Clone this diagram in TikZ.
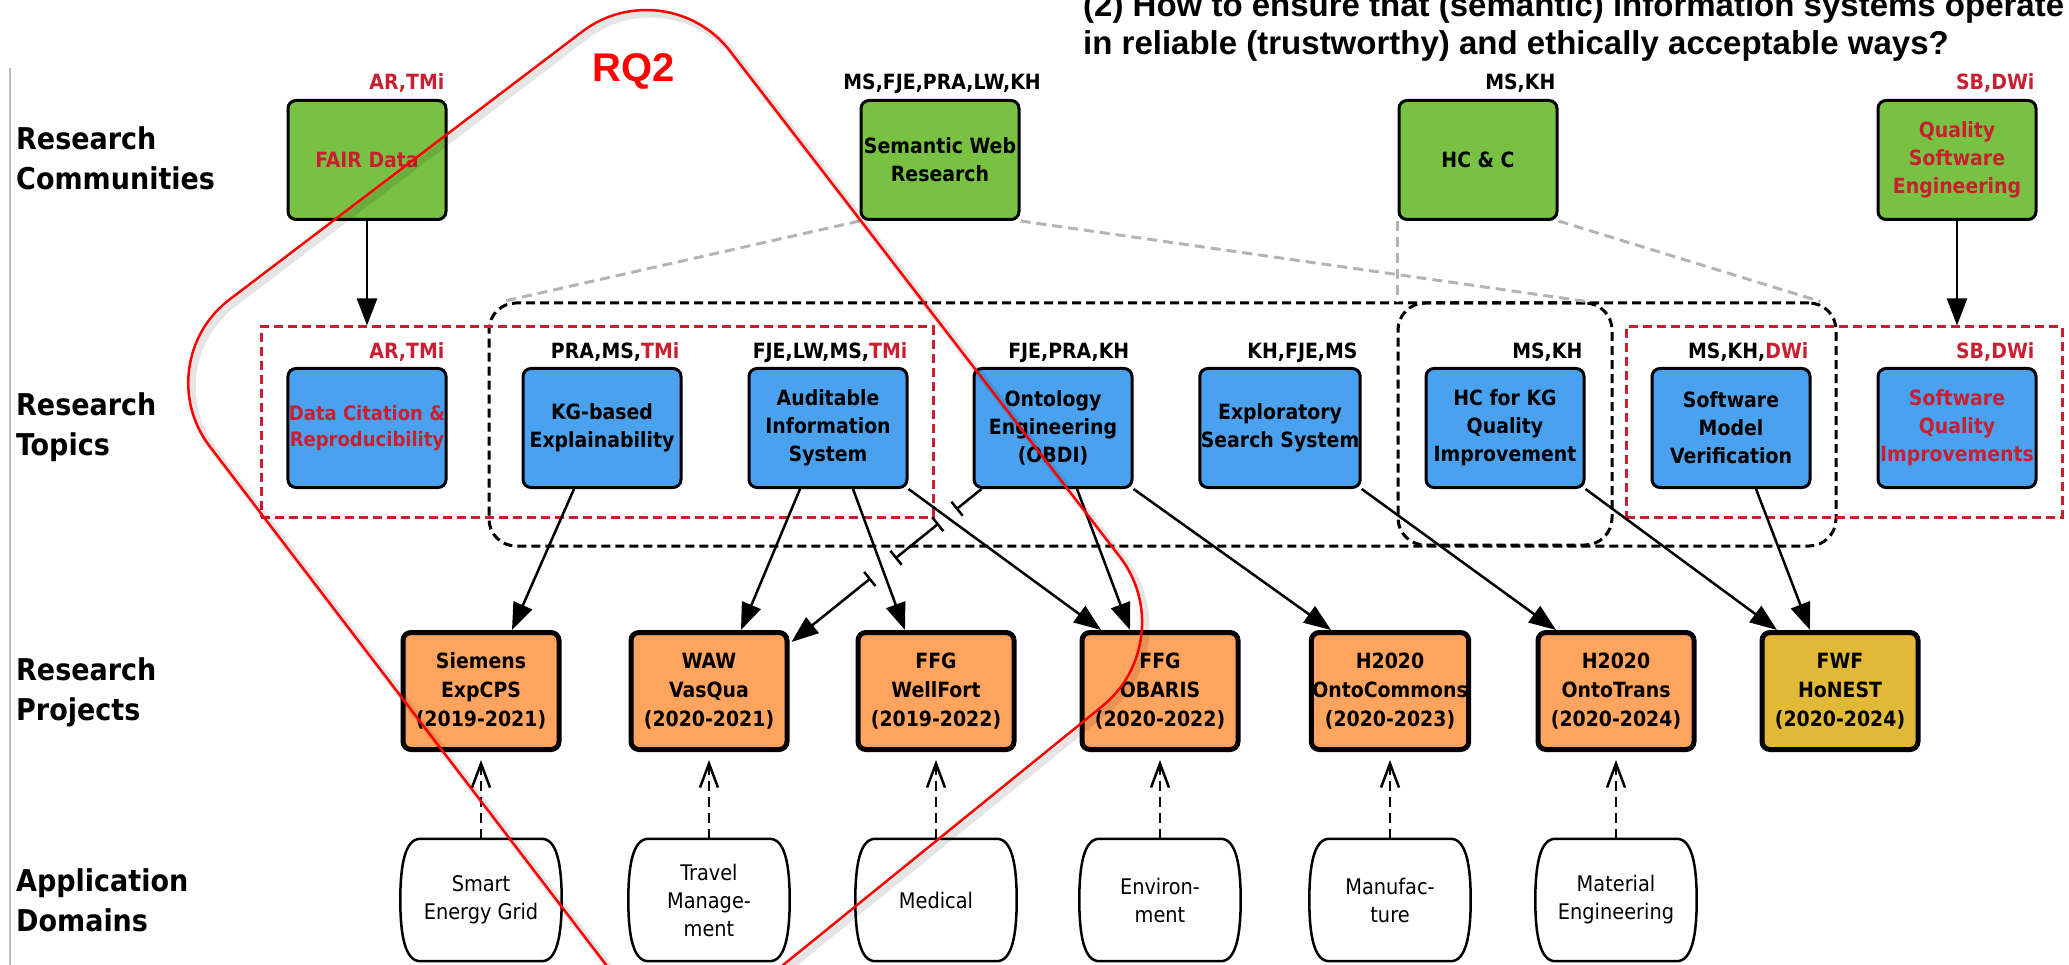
\documentclass[tikz,border=0pt]{standalone}
\usepackage{fontspec}
\setmainfont{DejaVu Sans Condensed}
\newfontfamily\arialfont{Liberation Sans}
\usetikzlibrary{arrows.meta,calc}

\definecolor{commgreen}{RGB}{120,193,67}
\definecolor{topicblue}{RGB}{74,161,238}
\definecolor{projorange}{RGB}{255,164,94}
\definecolor{projgold}{RGB}{225,185,55}
\definecolor{leadred}{RGB}{200,32,48}
\definecolor{fangray}{RGB}{180,180,180}

\tikzset{
  box/.style={rectangle, rounded corners=8pt, draw=black, line width=3pt,
    minimum width=158pt, minimum height=119pt, inner sep=1pt, align=center,
    font=\fontsize{21}{28}\selectfont\bfseries},
  community/.style={box, fill=commgreen},
  topic/.style={box, fill=topicblue},
  project/.style={box, fill=projorange, line width=5pt,
    minimum width=156pt, minimum height=117pt, font=\fontsize{21}{29}\selectfont\bfseries},
  funder/.style={project, fill=projgold},
  appdomain/.style={minimum width=161pt, minimum height=122pt, align=center,
    font=\fontsize{21.5}{28}\selectfont, inner sep=0pt},
  domainline/.style={draw=black, line width=2.5pt},
  who/.style={anchor=base east, font=\fontsize{21}{24}\selectfont\bfseries, inner sep=0pt},
  rowlabel/.style={anchor=west, align=left, font=\fontsize{30}{40}\selectfont\bfseries, inner sep=0pt},
  link/.style={line width=2.5pt, -{Triangle[length=27pt,width=20pt]}},
  tee/.style={line width=2.5pt},
  feeds/.style={line width=2.5pt, dash pattern=on 10pt off 6pt,
    -{Straight Barb[length=24pt,width=18pt]}, shorten >=8pt},
  fan/.style={draw=fangray, line width=3pt, dash pattern=on 10pt off 6pt},
  group/.style={draw=black, line width=3pt, dash pattern=on 9pt off 5pt,
    rounded corners=27pt, inner sep=0pt},
  leadgroup/.style={draw=leadred, line width=3pt, dash pattern=on 9pt off 5pt, inner sep=0pt},
  scopeline/.style={line width=2.5pt, rounded corners=105pt},
}

\begin{document}
\begin{tikzpicture}[x=1pt,y=-1pt]
\useasboundingbox (0,0) rectangle (2069,965);

% left rule
\draw[draw=black!25, line width=1.5pt] (10,68) -- (10,965);

% row headings
\node[rowlabel] (rlc) at (16,158) {Research\\Communities};
\node[rowlabel] (rlt) at (16,427) {Research\\Topics};
\node[rowlabel] (rlp) at (16,692) {Research\\Projects};
\node[rowlabel] (rld) at (16,900) {Application\\Domains};

% research question
\node[anchor=base west, inner sep=0pt, font=\arialfont\bfseries\fontsize{33}{38}\selectfont] (q1) at (1083,17)
  {(2) How to ensure that (semantic) information systems operate};
\node[anchor=base west, inner sep=0pt, font=\arialfont\bfseries\fontsize{33}{38}\selectfont] (q2) at (1083,55)
  {in reliable (trustworthy) and ethically acceptable ways?};

% groups of topics
\node[group, minimum width=1347pt, minimum height=243pt] (swgroup) at (1162.5,424.5) {};
\node[group, minimum width=214pt, minimum height=242pt] (hccgroup) at (1505,424) {};
\node[leadgroup, minimum width=672pt, minimum height=190pt] (lead1) at (597,422) {};
\node[leadgroup, minimum width=436pt, minimum height=190pt] (lead2) at (1844,422) {};

% research communities
\node[community, text=leadred] (fair) at (367,160) {FAIR Data};
\node[community] (sw) at (940,160) {Semantic Web\\Research};
\node[community] (hcc) at (1478,160) {HC \& C};
\node[community, text=leadred] (qse) at (1957,160) {Quality\\Software\\Engineering};

\node[who, text=leadred] (fairwho) at ($(fair.north east)+(-3,-9)$) {AR,TMi};
\node[who, anchor=base] (swwho) at ($(sw.north)+(2,-9)$) {MS,FJE,PRA,LW,KH};
\node[who] (hccwho) at ($(hcc.north east)+(-3,-9)$) {MS,KH};
\node[who, text=leadred] (qsewho) at ($(qse.north east)+(-3,-9)$) {SB,DWi};

% research topics
\node[topic, text=leadred, font=\fontsize{20}{26}\selectfont\bfseries] (dc) at (367,428) {Data Citation \&\\Reproducibility};
\node[topic] (kg) at (602,428) {KG-based\\Explainability};
\node[topic] (ais) at (828,428) {Auditable\\Information\\System};
\node[topic] (oe) at (1053,428) {Ontology\\Engineering\\(OBDI)};
\node[topic] (ess) at (1280,428) {Exploratory\\Search System};
\node[topic] (hckg) at (1505,428) {HC for KG\\Quality\\Improvement};
\node[topic] (smv) at (1731,428) {Software\\Model\\Verification};
\node[topic, text=leadred] (sqi) at (1957,428) {Software\\Quality\\Improvements};

\node[who, text=leadred] (dcwho) at ($(dc.north east)+(-3,-8)$) {AR,TMi};
\node[who] (kgwho) at ($(kg.north east)+(-3,-8)$) {PRA,MS,\textcolor{leadred}{TMi}};
\node[who] (aiswho) at ($(ais.north east)+(-1,-8)$) {FJE,LW,MS,\textcolor{leadred}{TMi}};
\node[who] (oewho) at ($(oe.north east)+(-4,-8)$) {FJE,PRA,KH};
\node[who] (esswho) at ($(ess.north east)+(-4,-8)$) {KH,FJE,MS};
\node[who] (hckgwho) at ($(hckg.north east)+(-3,-8)$) {MS,KH};
\node[who] (smvwho) at ($(smv.north east)+(-3,-8)$) {MS,KH,\textcolor{leadred}{DWi}};
\node[who, text=leadred] (sqiwho) at ($(sqi.north east)+(-3,-8)$) {SB,DWi};

% research projects
\node[project] (siemens) at (481,691) {Siemens\\ExpCPS\\(2019-2021)};
\node[project] (waw) at (709,691) {WAW\\VasQua\\(2020-2021)};
\node[project] (wellfort) at (936,691) {FFG\\WellFort\\(2019-2022)};
\node[project] (obaris) at (1160,691) {FFG\\OBARIS\\(2020-2022)};
\node[project] (ontocommons) at (1390,691) {H2020\\OntoCommons\\(2020-2023)};
\node[project] (ontotrans) at (1616,691) {H2020\\OntoTrans\\(2020-2024)};
\node[funder] (honest) at (1840,691) {FWF\\HoNEST\\(2020-2024)};

% application domains
\node[appdomain] (energy) at (481,900) {Smart\\Energy Grid};
\node[appdomain] (travel) at (709,900) {Travel\\Manage-\\ment};
\node[appdomain] (medical) at (936,900) {Medical};
\node[appdomain] (environment) at (1160,900) {Environ-\\ment};
\node[appdomain] (manufacture) at (1390,900) {Manufac-\\ture};
\node[appdomain] (material) at (1616,900) {Material\\Engineering};

% barrel outline of every domain
\foreach \n in {energy,travel,medical,environment,manufacture,material}{
  \draw[domainline]
    ($(\n.north west)+(20,0)$) -- ($(\n.north east)+(-20,0)$)
    .. controls ($(\n.north east)+(-5,0)$) and ($(\n.north east)+(0,25)$) .. (\n.east)
    .. controls ($(\n.south east)+(0,-25)$) and ($(\n.south east)+(-5,0)$) .. ($(\n.south east)+(-20,0)$)
    -- ($(\n.south west)+(20,0)$)
    .. controls ($(\n.south west)+(5,0)$) and ($(\n.south west)+(0,-25)$) .. (\n.west)
    .. controls ($(\n.north west)+(0,25)$) and ($(\n.north west)+(5,0)$) .. cycle;
}

% communities fanning out to the topic groups
\draw[fan] (sw.south west) -- ($(swgroup.north west)+(15,0)$);
\draw[fan] (sw.south east) -- ($(hccgroup.north east)+(-27,0)$);
\draw[fan] (hcc.south west) -- (hcc.south west |- hccgroup.north);
\draw[fan] (hcc.south east) -- ($(swgroup.north east)+(-17,0)$);

% communities to their topic groups
\draw[link] (fair.south) -- (fair.south |- lead1.north);
\draw[link] (qse.south) -- (qse.south |- lead2.north);

% topics to projects
\draw[link] ($(kg.south)+(-28,0)$) -- ($(siemens.north)+(31,0)$);
\draw[link] ($(ais.south)+(-28,0)$) -- ($(waw.north)+(32,0)$);
\draw[link] ($(ais.south)+(25,0)$) -- ($(wellfort.north)+(-31,0)$);
\draw[link] (ais.south east) -- ($(obaris.north)+(-59,0)$);
\draw[link] ($(oe.south)+(24,0)$) -- ($(obaris.north)+(-30,0)$);
\draw[link] (oe.south east) -- ($(ontocommons.north)+(-59,0)$);
\draw[link] (ess.south east) -- ($(ontotrans.north)+(-60,0)$);
\draw[link] (hckg.south east) -- ($(honest.north)+(-63,0)$);
\draw[link] ($(smv.south)+(25,0)$) -- ($(honest.north)+(-30,0)$);

% interrupted link from ontology engineering to WAW
\coordinate (teeA) at ($(oe.south west)+(9,0)$);
\coordinate (teeB) at ($(waw.north east)+(2,12)$);
\draw[tee, -{Bar[width=18pt]}] (teeA) -- ($(teeA)!0.134!(teeB)$);
\draw[tee, {Bar[width=18pt]}-{Bar[width=18pt]}] ($(teeA)!0.225!(teeB)$) -- ($(teeA)!0.455!(teeB)$);
\draw[tee, {Bar[width=18pt]}-{Triangle[length=27pt,width=20pt]}] ($(teeA)!0.583!(teeB)$) -- (teeB);

% domains feeding projects
\foreach \d/\p in {energy/siemens, travel/waw, medical/wellfort, environment/obaris,
                   manufacture/ontocommons, material/ontotrans}{
  \draw[feeds] (\d.north) -- (\p.south);
}

% RQ2 scope outline with its soft shadow
\draw[scopeline, draw=black, opacity=0.10, line width=7pt]
  (637,1004) -- (150,367) -- (670,-28) -- (1188,644) -- (744,1004);
\draw[scopeline, draw=red]
  (633,1000) -- (146,363) -- (666,-32) -- (1184,640) -- (740,1000);
\node[text=red, inner sep=0pt, font=\arialfont\bfseries\fontsize{40}{44}\selectfont] (rq) at (634,71) {RQ2};

\end{tikzpicture}
\end{document}
